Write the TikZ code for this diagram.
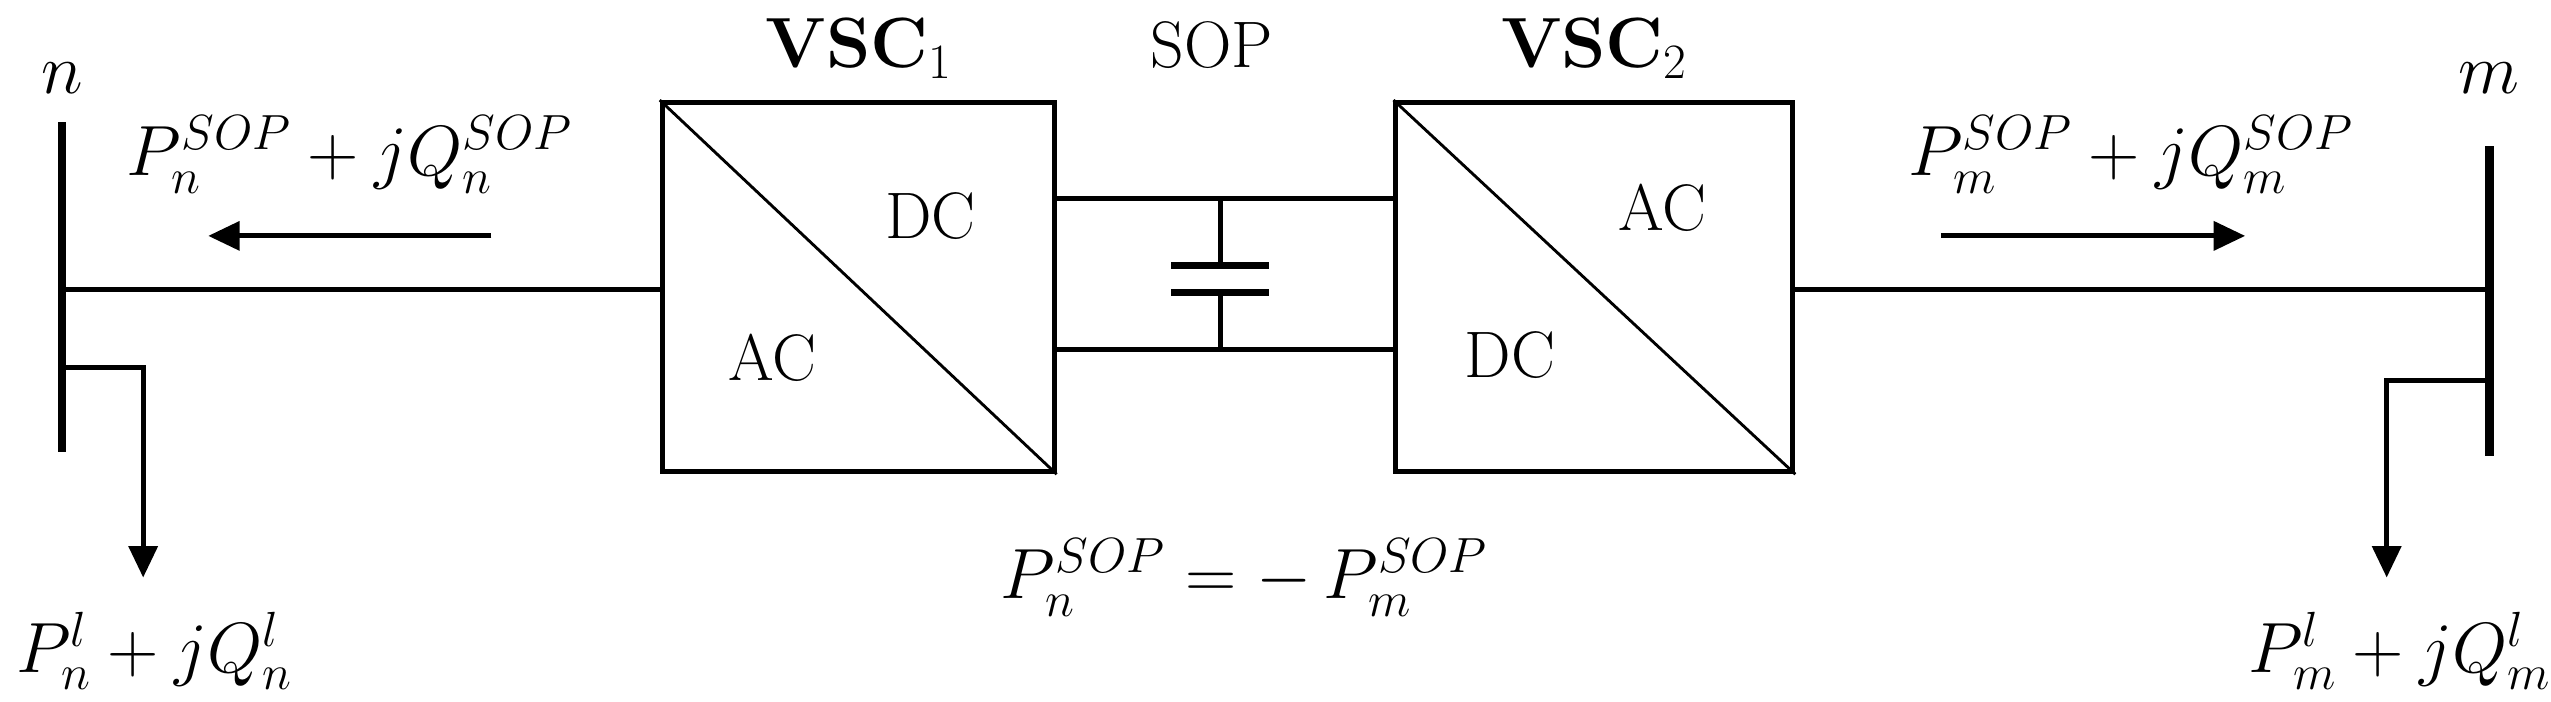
\documentclass[tikz,border=0pt]{standalone}
\usetikzlibrary{arrows.meta}
\begin{document}
\begin{tikzpicture}[x=0.02cm,y=-0.02cm,
  ln/.style={line width=1.7pt},
  bus/.style={line width=3pt},
  arr/.style={ln,-{Triangle[length=11pt,width=10pt]}},
  lbl/.style={font=\fontsize{23}{27}\selectfont,inner sep=0pt}]
\useasboundingbox (0,0) rectangle (1568,431);
% buses
\coordinate (nt) at (38,75); \coordinate (nb) at (38,278);
\coordinate (mt) at (1530,90); \coordinate (mb) at (1530,280);
\draw[bus] (nt) -- (nb);
\draw[bus] (mt) -- (mb);
\node[lbl] (nlab) at (38,48) {$n$};
\node[lbl] (mlab) at (1530,48) {$m$};
% converters
\node[draw,ln,minimum width=241*0.02cm,minimum height=227*0.02cm,inner sep=0pt] (v1) at (527.5,176.5) {};
\node[draw,ln,minimum width=244*0.02cm,minimum height=227*0.02cm,inner sep=0pt] (v2) at (980,176.5) {};
\draw[line width=1pt] (v1.north west) -- (v1.south east);
\draw[line width=1pt] (v2.north west) -- (v2.south east);
\node[lbl] (dc1) at (572,133) {DC};
\node[lbl] (ac1) at (475,220) {AC};
\node[lbl] (ac2) at (1022,128) {AC};
\node[lbl] (dc2) at (928,218) {DC};
\node[lbl] (t1) at (528,30) {$\mathbf{VSC}_1$};
\node[lbl] (tsop) at (745,28) {SOP};
\node[lbl] (t2) at (980,30) {$\mathbf{VSC}_2$};
% AC lines
\coordinate (nl) at (38,178); \coordinate (ml) at (1530,178);
\draw[ln] (nl) -- (nl -| v1.west);
\draw[ln] (ml -| v2.east) -- (ml);
% DC link
\coordinate (a1) at (648,122); \coordinate (a2) at (858,122);
\coordinate (b1) at (648,215); \coordinate (b2) at (858,215);
\draw[ln] (a1) -- (a2);
\draw[ln] (b1) -- (b2);
\coordinate (ct) at (750,122); \coordinate (cp1) at (750,163);
\coordinate (cp2) at (750,180); \coordinate (cb) at (750,215);
\draw[ln] (ct) -- (cp1); \draw[ln] (cp2) -- (cb);
\draw[line width=2.5pt] (720,163) -- (780,163);
\draw[line width=2.5pt] (720,180) -- (780,180);
% power arrows
\coordinate (pa1) at (302,145); \coordinate (pa2) at (128,145);
\draw[arr] (pa1) -- (pa2);
\node[lbl] (pn) at (215,95) {$P_n^{SOP}+jQ_n^{SOP}$};
\coordinate (pb1) at (1193,145); \coordinate (pb2) at (1380,145);
\draw[arr] (pb1) -- (pb2);
\node[lbl] (pm) at (1310,95) {$P_m^{SOP}+jQ_m^{SOP}$};
% loads
\coordinate (ln1) at (38,226); \coordinate (ln2) at (88,226); \coordinate (ln3) at (88,355);
\draw[arr] (ln1) -- (ln2) -- (ln3);
\node[lbl] (lnl) at (95,400) {$P_n^l+jQ_n^l$};
\coordinate (lm1) at (1530,234); \coordinate (lm2) at (1467,234); \coordinate (lm3) at (1467,355);
\draw[arr] (lm1) -- (lm2) -- (lm3);
\node[lbl] (lml) at (1475,400) {$P_m^l+jQ_m^l$};
\node[lbl] (eq) at (765,355) {$P_n^{SOP}=-\,P_m^{SOP}$};
\end{tikzpicture}
\end{document}
